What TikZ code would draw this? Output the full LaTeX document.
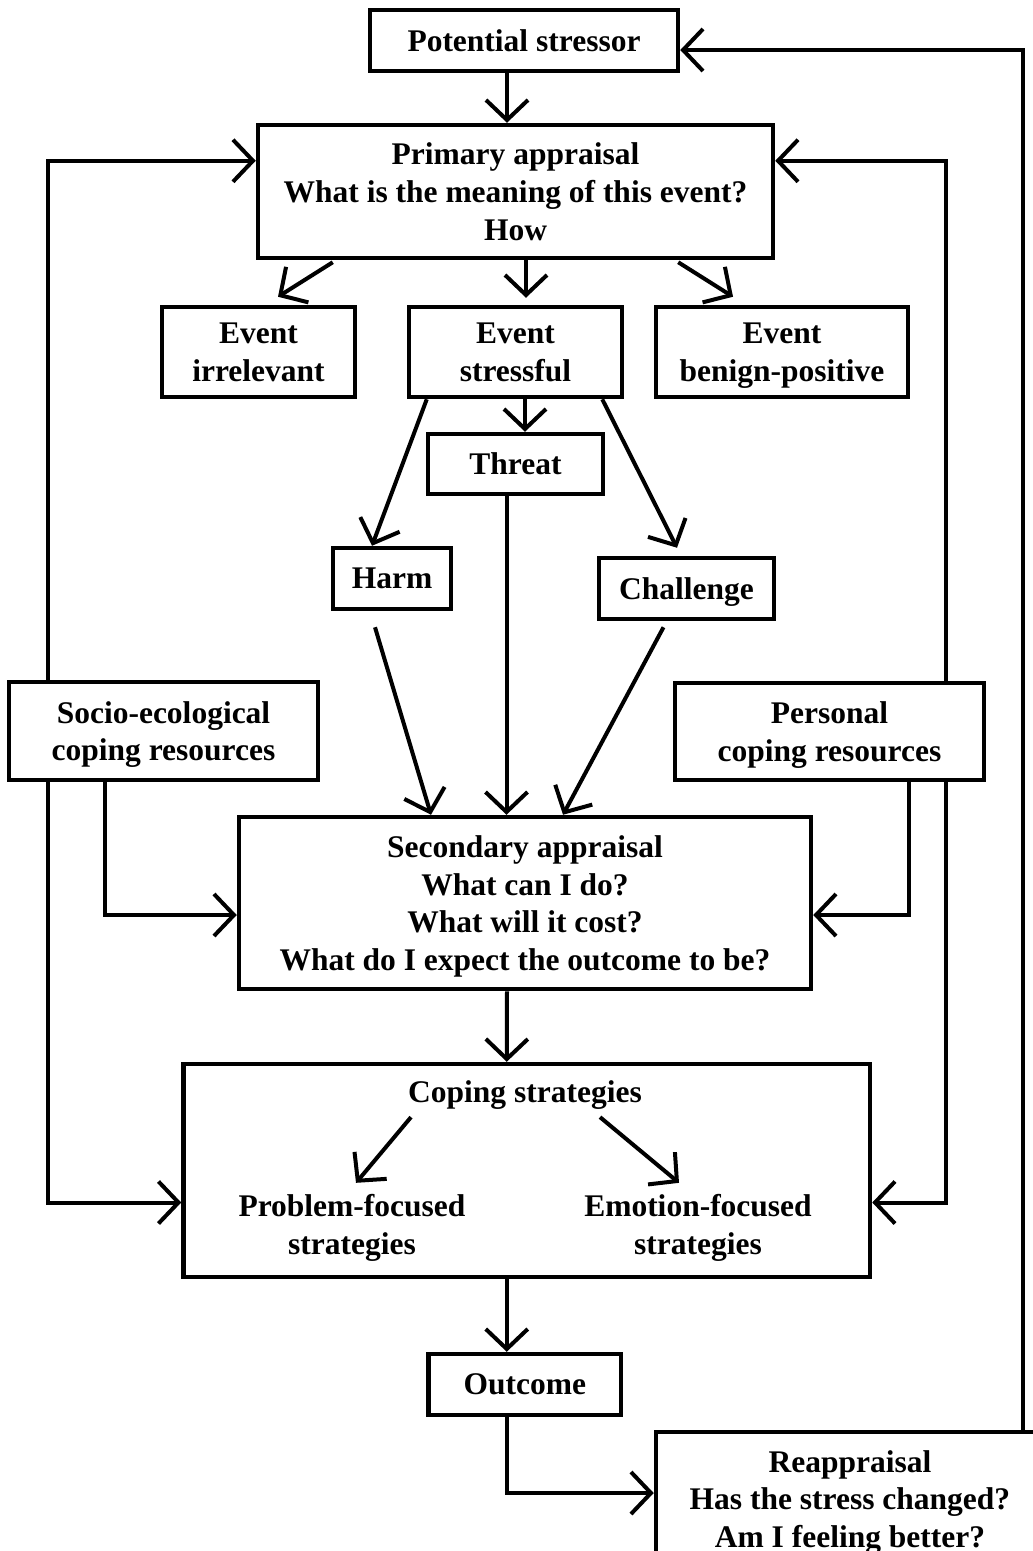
\documentclass[tikz,border=0pt]{standalone}
\usepackage{fontspec}
\setmainfont{Liberation Serif}
\usetikzlibrary{arrows.meta,calc}
\begin{document}
\begin{tikzpicture}[x=1pt,y=-1pt,
  box/.style={draw, line width=4.5pt, inner sep=0pt, align=center, text depth=0pt,
    font=\bfseries\fontsize{31.5}{37.8}\selectfont},
  txt/.style={inner sep=0pt, align=center, text depth=0pt,
    font=\bfseries\fontsize{31.5}{37.8}\selectfont},
  arr/.style={line width=4pt, -{Straight Barb[length=20pt,width=42pt]}},
]
\useasboundingbox (0,0) rectangle (1033,1551);
% nodes
\node[box, minimum width=308pt, minimum height=61pt] (ps) at (524,40.5) {Potential stressor};
\node[box, minimum width=515pt, minimum height=133pt] (pa) at (515.5,191.5) {Primary appraisal\\What is the meaning of this event?\\How};
\node[box, minimum width=193pt, minimum height=90pt] (ei) at (258.5,352) {Event\\irrelevant};
\node[box, minimum width=213pt, minimum height=90pt] (es) at (515.5,352) {Event\\stressful};
\node[box, minimum width=252pt, minimum height=90pt] (eb) at (782,352) {Event\\benign-positive};
\node[box, minimum width=175pt, minimum height=60pt] (th) at (515.5,464) {Threat};
\node[box, minimum width=118pt, minimum height=61pt] (ha) at (392,578.5) {Harm};
\node[box, minimum width=175pt, minimum height=61pt] (ch) at (686.5,588.5) {Challenge};
\node[box, minimum width=309pt, minimum height=98pt] (so) at (163.5,731) {Socio-ecological\\coping resources};
\node[box, minimum width=309pt, minimum height=97pt] (pe) at (829.5,731.5) {Personal\\coping resources};
\node[box, minimum width=572pt, minimum height=172pt] (sa) at (525,903) {Secondary appraisal\\What can I do?\\What will it cost?\\What do I expect the outcome to be?};
\node[box, minimum width=686.5pt, minimum height=213pt] (cs) at (526.75,1170.5) {};
\node[txt] (cst) at (525,1092) {Coping strategies};
\node[txt] (pf) at (352,1224) {Problem-focused\\strategies};
\node[txt] (ef) at (698,1224) {Emotion-focused\\strategies};
\node[box, minimum width=192.5pt, minimum height=61pt] (oc) at (524.75,1384.5) {Outcome};
\node[box, minimum width=388pt, minimum height=134pt] (ra) at (850,1499) {Reappraisal\\Has the stress changed?\\Am I feeling better?};
% connectors
\draw[arr] ($(ps.south)+(-17,0)$) -- ($(pa.north)+(-8.5,0)$);
\draw[arr] ($(pa.south west)+(77,2)$) -- ($(ei.north)+(19.5,-8)$);
\draw[arr] ($(pa.south)+(10.5,0)$) -- ($(es.north)+(10.5,-7)$);
\draw[arr] ($(pa.south east)+(-97,2)$) -- ($(eb.north)+(-49,-8)$);
\draw[arr] ($(es.south)+(9.5,0)$) -- ($(th.north)+(9.5,0)$);
\draw[arr] ($(es.south west)+(20,0)$) -- ($(ha.north)+(-20,0)$);
\draw[arr] ($(es.south east)+(-22,0)$) -- ($(ch.north)+(-9.5,-8)$);
\draw[arr] ($(th.south)+(-9,0)$) -- ($(sa.north)+(-18.5,0)$);
\draw[arr] ($(ha.south)+(-17,16)$) -- ($(sa.north)+(-94,0)$);
\draw[arr] ($(ch.south)+(-23,6)$) -- ($(sa.north)+(38,0)$);
\draw[arr] ($(so.south west)+(98,0)$) |- ($(sa.west)+(0,12)$);
\draw[arr] ($(pe.south east)+(-77,0)$) |- ($(sa.east)+(0,12)$);
\draw[arr] ($(sa.south)+(-18,0)$) -- ($(cs.north)+(-20,0)$);
\draw[arr] ($(so.north west)+(41,0)$) |- ($(pa.north west)+(0,38)$);
\draw[arr] ($(so.south west)+(41,0)$) |- ($(cs.west)+(0,32)$);
\draw[arr] ($(pe.north east)+(-40,0)$) |- ($(pa.north east)+(0,38)$);
\draw[arr] ($(pe.south east)+(-40,0)$) |- ($(cs.east)+(0,32)$);
\draw[arr] ($(cst.south west)+(3,14)$) -- ($(pf.north)+(4,-11)$);
\draw[arr] ($(cst.south east)+(-42,14)$) -- ($(ef.north)+(-19,-11)$);
\draw[arr] ($(cs.south)+(-20,0)$) -- ($(oc.north)+(-18,0)$);
\draw[arr] ($(oc.south)+(-18,0)$) |- ($(ra.west)+(0,-6)$);
\draw[arr] ($(ra.north east)+(-23,0)$) |- ($(ps.east)+(0,9.5)$);
\end{tikzpicture}
\end{document}
